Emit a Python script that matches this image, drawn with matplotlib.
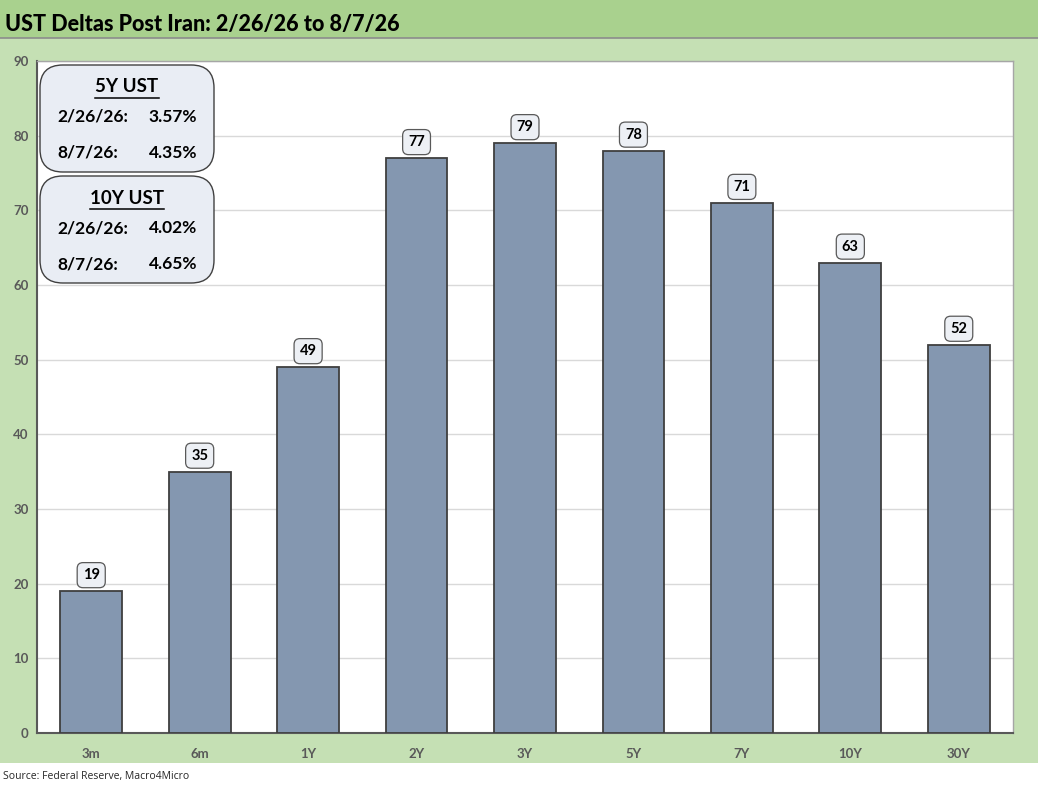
import matplotlib.pyplot as plt
from matplotlib.patches import Rectangle, FancyBboxPatch
from matplotlib.lines import Line2D

tenors = ['3m', '6m', '1Y', '2Y', '3Y', '5Y', '7Y', '10Y', '30Y']
deltas = [19, 35, 49, 77, 79, 78, 71, 63, 52]

title = 'UST Deltas Post Iran: 2/26/26 to 8/7/26'
source = 'Source: Federal Reserve, Macro4Micro'
boxes = [
    ('5Y UST', [('2/26/26:', '3.57%'), ('8/7/26:', '4.35%')]),
    ('10Y UST', [('2/26/26:', '4.02%'), ('8/7/26:', '4.65%')]),
]

plt.rcParams['font.family'] = ['Lato', 'DejaVu Sans']

W, H = 1038, 790
fig = plt.figure(figsize=(W / 100, H / 100), dpi=100)
fig.patch.set_facecolor('white')


def fx(x):
    return x / W


def fy(y):
    return 1 - y / H


# background bands (behind the axes)
fig.patches.append(Rectangle((0, fy(763)), 1, fy(38) - fy(763), transform=fig.transFigure,
                             facecolor='#c5e0b4', edgecolor='none', zorder=-2))
fig.patches.append(Rectangle((0, fy(38)), 1, 38 / H, transform=fig.transFigure,
                             facecolor='#a9d18e', edgecolor='none', zorder=-2))
fig.lines.append(Line2D([0, 1], [fy(38), fy(38)], transform=fig.transFigure,
                        color='#8c8c8c', lw=1.2, zorder=-1))

fig.text(fx(5), fy(24), title, fontsize=15.5, fontweight='black', color='black',
         va='center', ha='left')
fig.text(fx(3), fy(777), source, fontsize=7.5, color='#262626', va='center', ha='left',
         family=['Open Sans', 'DejaVu Sans'])

ax = fig.add_axes([fx(37), fy(733), fx(1013) - fx(37), fy(61) - fy(733)])
ax.set_facecolor('white')
x = range(len(tenors))
ax.bar(x, deltas, width=0.57, color='#8497b0', edgecolor='#3f3f3f', linewidth=1.3, zorder=3)
ax.set_xlim(-0.5, len(tenors) - 0.5)
ax.set_ylim(0, 90)
ax.set_yticks(range(0, 91, 10))
ax.set_xticks(list(x))
ax.set_xticklabels(tenors)
ax.grid(axis='y', color='#d9d9d9', lw=1, zorder=0)
ax.tick_params(axis='both', length=0, labelsize=9.5, labelcolor='#595959')
ax.tick_params(axis='x', pad=11)
ax.tick_params(axis='y', pad=6)
for lab in ax.get_xticklabels() + ax.get_yticklabels():
    lab.set_fontweight('bold')
for side in ['left', 'bottom']:
    ax.spines[side].set_color('#595959')
    ax.spines[side].set_linewidth(1.5)
for side in ['top', 'right']:
    ax.spines[side].set_color('#a6a6a6')
    ax.spines[side].set_linewidth(1)

for i, v in enumerate(deltas):
    ax.annotate(str(v), (i, v), xytext=(0, 11.5), textcoords='offset points',
                ha='center', va='center', fontsize=10.5, fontweight='bold',
                bbox=dict(boxstyle='round,pad=0.38,rounding_size=0.4', fc='#edf0f5',
                          ec='#595959', lw=0.9), zorder=5)

# info boxes
box_tops = [65, 176]
renderer = fig.canvas.get_renderer()
for (head, rows), top in zip(boxes, box_tops):
    bx0, bx1, by0, by1 = 40, 214, top, top + 107
    fig.patches.append(FancyBboxPatch((fx(bx0), fy(by1)), fx(bx1) - fx(bx0), fy(by0) - fy(by1),
                                      boxstyle='round,pad=0,rounding_size=0.022',
                                      transform=fig.transFigure, facecolor='#e9edf4',
                                      edgecolor='#404040', lw=1.0, zorder=4,
                                      mutation_aspect=W / H))
    t = fig.text(fx(127), fy(top + 22), head, fontsize=13.5, fontweight='bold',
                 ha='center', va='center', zorder=6)
    bb = t.get_window_extent(renderer)
    fig.lines.append(Line2D([bb.x0 / W, bb.x1 / W], [fy(top + 33), fy(top + 33)],
                            transform=fig.transFigure, color='black', lw=1.1, zorder=6))
    for j, (d, val) in enumerate(rows):
        yy = top + 52 + j * 36
        fig.text(fx(57), fy(yy), d, fontsize=12.5, fontweight='bold', ha='left', va='center', zorder=6)
        fig.text(fx(197), fy(yy), val, fontsize=12.5, fontweight='bold', ha='right', va='center', zorder=6)

fig.savefig('out.png', dpi=100, facecolor=fig.get_facecolor())
